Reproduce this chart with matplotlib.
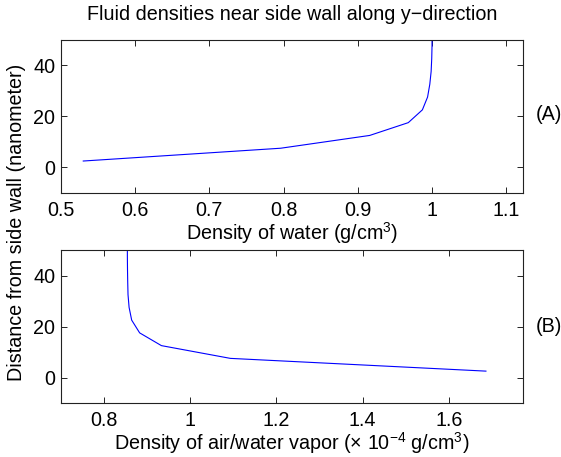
import matplotlib
matplotlib.use("Agg")
import matplotlib.pyplot as plt

plt.rcParams['font.family'] = ['Liberation Sans', 'DejaVu Sans']
plt.rcParams['mathtext.fontset'] = 'custom'
plt.rcParams['mathtext.rm'] = 'Liberation Sans'
plt.rcParams['mathtext.it'] = 'Liberation Sans:italic'
plt.rcParams['mathtext.bf'] = 'Liberation Sans:bold'
plt.rcParams['mathtext.default'] = 'regular'

# Distance from side wall (nanometer)
distance = [2.5, 7.5, 12.5, 17.5, 22.5, 27.5, 32.5, 37.5, 42.5, 47.5, 52.5]
# Density of water (g/cm^3)
water = [0.530, 0.796, 0.916, 0.968, 0.987, 0.994, 0.997, 0.9988, 0.9996, 1.0, 1.0]
# Density of air/water vapor (x 1e-4 g/cm^3)
vapor = [1.686, 1.093, 0.933, 0.8825, 0.864, 0.858, 0.8555, 0.8548, 0.8543, 0.854, 0.854]

top_xticks = [0.5, 0.6, 0.7, 0.8, 0.9, 1.0, 1.1]
top_xticklabels = ['0.5', '0.6', '0.7', '0.8', '0.9', '1', '1.1']
bot_xticks = [0.8, 1.0, 1.2, 1.4, 1.6]
bot_xticklabels = ['0.8', '1', '1.2', '1.4', '1.6']
yticks = [0, 20, 40]

W, H = 561, 457
fig = plt.figure(figsize=(W / 100, H / 100), dpi=100)

left = 61 / W
width = (523 - 61) / W
ax1 = fig.add_axes([left, 1 - 193 / H, width, (193 - 39.5) / H])
ax2 = fig.add_axes([left, 1 - 403 / H, width, (403 - 250) / H])

fs = 14.2
for ax in (ax1, ax2):
    ax.set_ylim(-10, 50)
    ax.set_yticks(yticks)
    ax.tick_params(direction='in', top=True, right=True, length=4, width=0.6,
                   labelsize=fs, colors='black')
    ax.tick_params(axis='x', pad=6)
    ax.tick_params(axis='y', pad=4)
    for s in ax.spines.values():
        s.set_linewidth(0.8)
        s.set_color('#222222')

ax1.plot(water, distance, color='blue', linewidth=0.8)
ax1.set_xlim(0.5, 1.1226)
ax1.set_xticks(top_xticks)
ax1.set_xticklabels(top_xticklabels)
ax1.set_xlabel('Density of water (g/cm$^3$)', fontsize=fs, labelpad=0)

ax2.plot(vapor, distance, color='blue', linewidth=0.8)
ax2.set_xlim(0.7, 1.772)
ax2.set_xticks(bot_xticks)
ax2.set_xticklabels(bot_xticklabels)
ax2.set_xlabel('Density of air/water vapor (\u00d7 10$^{\u2212 4}$ g/cm$^3$)', fontsize=fs, labelpad=0)

fig.text(0.5 * (61 + 523) / W, 1 - 14 / H, 'Fluid densities near side wall along y\u2212direction',
         ha='center', va='center', fontsize=fs)
fig.text(536 / W, 1 - 115 / H, '(A)', ha='left', va='center', fontsize=fs)
fig.text(536 / W, 1 - 326 / H, '(B)', ha='left', va='center', fontsize=fs)
fig.text(17 / W, 1 - 222 / H, 'Distance from side wall (nanometer)', rotation=90,
         ha='center', va='center', fontsize=fs)

fig.savefig('out.png', dpi=100)
